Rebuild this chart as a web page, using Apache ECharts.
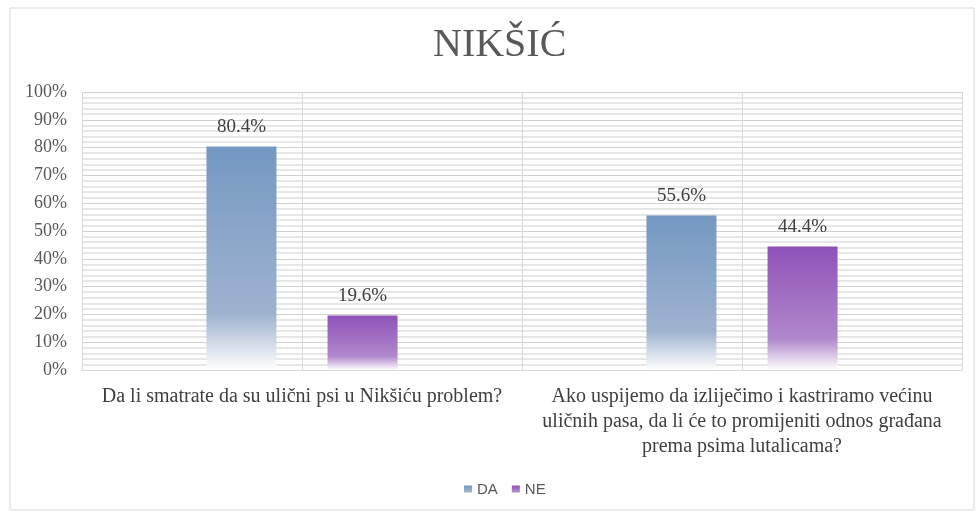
<!DOCTYPE html>
<html><head><meta charset="utf-8">
<script src="https://cdn.jsdelivr.net/npm/echarts@6/dist/echarts.min.js"></script>
<style>html,body{margin:0;padding:0;background:#fff}#c{width:977px;height:513px}</style>
</head><body><div id="c"></div>
<script>
const categories = ["Da li smatrate da su ulični psi u Nikšiću problem?",
  "Ako uspijemo da izliječimo i kastriramo većinu\nuličnih pasa, da li će to promijeniti odnos građana\nprema psima lutalicama?"];
const seriesNames = ["DA", "NE"];
const daValues = [80.4, 55.6];
const neValues = [19.6, 44.4];
const titleText = "NIKŠIĆ";

const serif = "'Liberation Serif', 'DejaVu Serif', serif";
function grad(top, mid) {
  return new echarts.graphic.LinearGradient(0, 0, 0, 1, [
    {offset: 0, color: top},
    {offset: 0.75, color: mid},
    {offset: 1, color: 'rgba(255,255,255,1)'}
  ]);
}
const chart = echarts.init(document.getElementById('c'), null, {renderer: 'canvas'});
chart.setOption({
  animation: false,
  backgroundColor: '#fff',
  graphic: [{type: 'rect', shape: {x: 10, y: 8, width: 964, height: 502},
    style: {fill: 'none', stroke: '#d9d9d9', lineWidth: 1}, silent: true}],
  title: {text: titleText, left: 428, top: 20,
    textStyle: {fontFamily: serif, fontSize: 40, fontWeight: 'normal', color: '#595959'}},
  legend: {data: seriesNames, top: 477, left: 459, itemWidth: 8, itemHeight: 8, itemGap: 14,
    icon: 'rect', textStyle: {fontFamily: "'Liberation Sans', Arial, sans-serif", fontSize: 15, color: '#595959'}},
  grid: {left: 82, right: 15, top: 92, bottom: 143},
  xAxis: [{
    type: 'category', data: categories,
    axisLine: {show: true, lineStyle: {color: '#d9d9d9'}},
    axisTick: {show: false},
    splitLine: {show: true, lineStyle: {color: '#d9d9d9'}},
    axisLabel: {fontFamily: serif, fontSize: 20, color: '#404040', lineHeight: 25, margin: 14, interval: 0}
  }, {
    type: 'value', min: 0, max: 4, interval: 1, position: 'top',
    axisLine: {show: false}, axisTick: {show: false}, axisLabel: {show: false},
    splitLine: {show: true, lineStyle: {color: '#d9d9d9'}}
  }],
  yAxis: {
    type: 'value', min: 0, max: 100, interval: 10,
    axisLine: {show: false}, axisTick: {show: false},
    axisLabel: {formatter: '{value}%', fontFamily: serif, fontSize: 18, color: '#595959', margin: 15},
    splitLine: {show: true, lineStyle: {color: '#d0d0d0'}},
    minorTick: {show: false, splitNumber: 5},
    minorSplitLine: {show: true, lineStyle: {color: '#e0e0e0', width: 1.5}}
  },
  series: [{
    name: seriesNames[0], type: 'bar', data: daValues, barWidth: 70, barGap: '73%',
    itemStyle: {color: grad('#7498c2', '#9fb3cf')},
    label: {show: true, position: 'top', distance: 10, formatter: p => p.value.toFixed(1) + '%',
      fontFamily: serif, fontSize: 19, color: '#404040'}
  }, {
    name: seriesNames[1], type: 'bar', data: neValues, barWidth: 70,
    itemStyle: {color: grad('#8f52b8', '#b088cc')},
    label: {show: true, position: 'top', distance: 10, formatter: p => p.value.toFixed(1) + '%',
      fontFamily: serif, fontSize: 19, color: '#404040'}
  }]
});
</script></body></html>
